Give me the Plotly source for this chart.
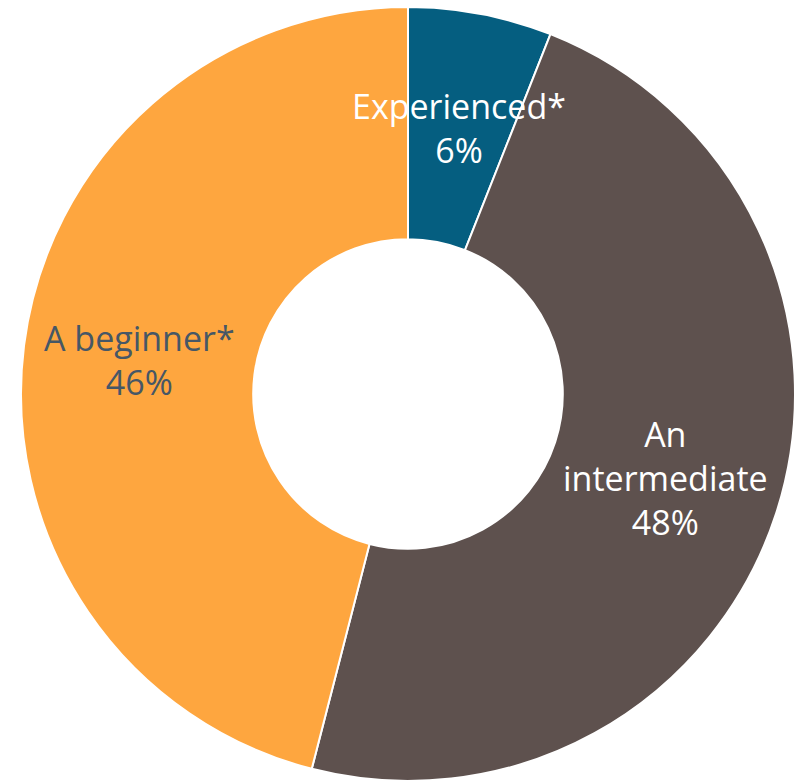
import math
import plotly.graph_objects as go

# Experience level of respondents (percent)
levels = ["Experienced*", "An<br>intermediate", "A beginner*"]
shares = [6, 48, 46]
slice_colors = ["#055e80", "#5e514e", "#fea63f"]
label_colors = ["#ffffff", "#ffffff", "#465766"]

HOLE = 0.4
FONT = "Open Sans, sans-serif"
FONT_SIZE = 34

fig = go.Figure(
    go.Pie(
        labels=levels,
        values=shares,
        hole=HOLE,
        sort=False,
        direction="clockwise",
        rotation=0,
        marker=dict(colors=slice_colors, line=dict(color="#ffffff", width=2)),
        textinfo="none",
        showlegend=False,
        hoverinfo="label+percent",
    )
)

# Each label sits in the middle of the ring, centred on its slice's mid angle,
# so the thin slice's label may spill over onto its neighbours.
total = sum(shares)
ring_mid = 0.5 * (1 + HOLE) / 2
start = 0.0
for lab, val, col in zip(levels, shares, label_colors):
    mid = (start + val / 2) / total * 2 * math.pi
    start += val
    fig.add_annotation(
        x=0.5 + ring_mid * math.sin(mid),
        y=0.5 + ring_mid * math.cos(mid),
        xref="paper",
        yref="paper",
        text=f"{lab}<br>{val}%",
        showarrow=False,
        xanchor="center",
        yanchor="middle",
        font=dict(family=FONT, size=FONT_SIZE, color=col),
    )

fig.update_layout(
    width=804,
    height=781,
    margin=dict(l=21, r=9, t=7, b=0),
    paper_bgcolor="#ffffff",
    plot_bgcolor="#ffffff",
)

fig.write_html("out.html")
